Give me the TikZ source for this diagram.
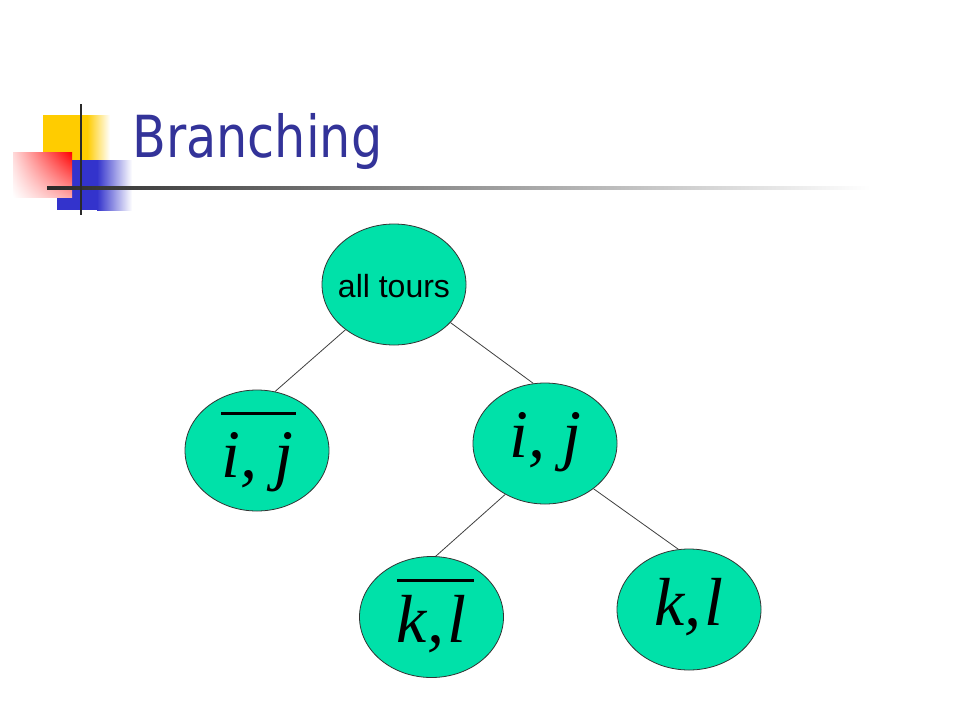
\documentclass[tikz,border=0pt]{standalone}
\usepackage{fontspec}
\newfontfamily\titlefont{DejaVu Sans}
\newfontfamily\arialfont{Liberation Sans}
\newfontfamily\tmsfont{Liberation Serif}
\usepackage{tikz}
\usetikzlibrary{shapes.geometric, shadings, positioning}
\definecolor{titleblue}{HTML}{333399}
\definecolor{tourgreen}{HTML}{00E1A9}
\definecolor{logoyellow}{HTML}{FFCC00}
\definecolor{logoblue}{HTML}{3333CC}
\definecolor{logored}{HTML}{FF0000}
\definecolor{rulegray}{HTML}{2A2A2A}
\tikzset{
	tour/.style={ellipse, draw=black!80, fill=tourgreen, minimum width=144pt, minimum height=121pt, inner sep=0pt, line width=0.8pt},
	branch/.style={draw=black!75, line width=0.8pt},
}
\newcommand{\bigmath}{\fontsize{68}{70}\selectfont\tmsfont\itshape}
\newcommand{\tourlabel}[2]{\raisebox{0pt}[#1][0pt]{\makebox[80pt][c]{#2}}}
\newcommand{\barlabel}[4]{\raisebox{0pt}[#1][0pt]{\makebox[0pt][l]{\raisebox{#3}{\rule{#2}{3pt}}}#4}}

\begin{document}
\begin{tikzpicture}[x=1pt, y=-1pt]
				\fill[white] (0,0) rectangle (960,720);
				\useasboundingbox (0,0) rectangle (960,720);
				% logo
				\fill[logoyellow] (43,115) rectangle (87,160);
				\shade[left color=logoyellow, right color=white] (87,115) rectangle (110,160);
				\fill[logoblue] (57,160) rectangle (97,210);
				\shade[left color=logoblue, right color=white] (97,160) rectangle (132,210);
				\shade[upper right=logored, upper left=logored!15, lower right=logored!35, lower left=white] (13,152) rectangle (72,197);
				\shade[left color=rulegray, right color=white] (47,186.5) rectangle (870,189.5);
				\draw[rulegray, line width=2.5pt] (81,104) -- (81,215);
				\node[anchor=base west, inner sep=0pt, text=titleblue, font=\titlefont\fontsize{58}{60}\selectfont] (title) at (132,157) {\scalebox{0.85}[1]{Branching}};
				% tree
				\node[tour] (root) at (394,284.5) {\arialfont\fontsize{32}{34}\selectfont\tourlabel{25pt}{all tours}};
				\node[tour] (nobar) at (257,450.5) {\bigmath\barlabel{53pt}{75pt}{62.5pt}{i, j}};
				\node[tour] (ij) at (545,443.5) {\bigmath\tourlabel{27pt}{i, j}};
				\node[tour] (klbar) at (431.5,617) {\bigmath\barlabel{50pt}{77pt}{60.5pt}{k,\kern3pt l}};
				\node[tour] (kl) at (689,609.5) {\bigmath\tourlabel{31pt}{k,\kern3pt l}};
				\draw[branch] (root.223) -- (nobar.73);
				\draw[branch] (root.326) -- (ij.101);
				\draw[branch] (ij.232) -- (klbar.86);
				\draw[branch] (ij.317) -- (kl.100);
\end{tikzpicture}
\end{document}
